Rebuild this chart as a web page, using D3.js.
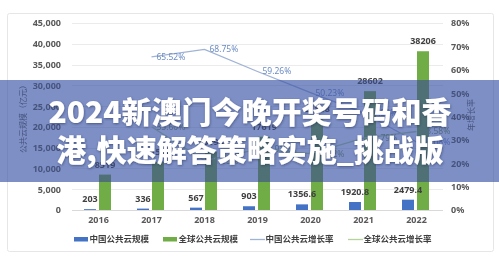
<!DOCTYPE html>
<html>
<head>
<meta charset="utf-8">
<script src="https://cdn.jsdelivr.net/npm/d3@7/dist/d3.min.js"></script>
<style>
  html, body { margin: 0; padding: 0; background: #fff; }
  svg { display: block; }
  text { font-family: "Noto Sans", "Noto Sans CJK SC", sans-serif; }
</style>
</head>
<body>
<svg id="chart" width="499" height="263"></svg>
<script>
// Public cloud market size (亿元) and yearly growth rates
const years = ["2016", "2017", "2018", "2019", "2020", "2021", "2022"];
const chinaScale = [203, 336, 567, 903, 1356.6, 1920.8, 2479.4];
const globalScale = [8519, 11552, 13993, 17619, 21868, 28602, 38206];
const chinaGrowth = [null, 65.52, 68.75, 59.26, 50.23, 41.59, 29.08];
const globalGrowth = [null, 35.60, 21.13, 25.91, 24.12, 30.79, 33.58];
const leftTicks = [0, 5000, 10000, 15000, 20000, 25000, 30000, 35000, 40000, 45000];
const rightTicks = [0, 10, 20, 30, 40, 50, 60, 70, 80];
const legendItems = ["中国公共云规模", "全球公共云规模", "中国公共云增长率", "全球公共云增长率"];
const bannerLines = ["2024新澳门今晚开奖号码和香", "港,快速解答策略实施_挑战版"];

const C_BLUE = "#4472c4", C_GREEN = "#70ad47";
const C_BLUE_LINE = "#9fb3d6", C_GREEN_LINE = "#b5d49c";

const svg = d3.select("#chart");

// outer panel
svg.append("rect").attr("x", 7.5).attr("y", 13.5).attr("width", 486).attr("height", 238)
  .attr("rx", 2).attr("fill", "#fff").attr("stroke", "#e6e6e6");

const x = d3.scaleBand().domain(years).range([72, 443]).padding(0);
const yL = d3.scaleLinear().domain([0, 45000]).range([210, 23]);
const yR = d3.scaleLinear().domain([0, 80]).range([210, 23]);

// gridlines
svg.append("g").selectAll("line").data(leftTicks).join("line")
  .attr("x1", 72).attr("x2", 443)
  .attr("y1", d => Math.round(yL(d)) + 0.5).attr("y2", d => Math.round(yL(d)) + 0.5)
  .attr("stroke", d => d === 0 ? "#d9d9d9" : "#ebebeb").attr("stroke-width", 1);

// left axis
const axL = svg.append("g").attr("transform", "translate(61,0)")
  .call(d3.axisLeft(yL).tickValues(leftTicks).tickSize(0).tickPadding(0).tickFormat(d3.format(",")));
axL.select(".domain").remove();
axL.selectAll("text").attr("fill", "#595959").attr("font-size", 9).attr("font-weight", 700);

// right axis
const axR = svg.append("g").attr("transform", "translate(451,0)")
  .call(d3.axisRight(yR).tickValues(rightTicks).tickSize(0).tickPadding(0).tickFormat(d => d + "%"));
axR.select(".domain").remove();
axR.selectAll("text").attr("fill", "#595959").attr("font-size", 9).attr("font-weight", 700);

// bottom axis
const axB = svg.append("g").attr("transform", "translate(0,210)")
  .call(d3.axisBottom(x).tickSize(0).tickPadding(7));
axB.select(".domain").remove();
axB.selectAll("text").attr("fill", "#595959").attr("font-size", 9).attr("font-weight", 700);

// axis titles
svg.append("text").attr("transform", "translate(26,117) rotate(-90)")
  .attr("text-anchor", "middle").attr("font-size", 8).attr("fill", "#595959")
  .text("公共云规模（亿元）");
svg.append("text").attr("transform", "translate(474,115) rotate(-90)")
  .attr("text-anchor", "middle").attr("font-size", 8).attr("fill", "#595959")
  .text("年增长率");

// bars
const barW = 12;
const gBars = svg.append("g");
gBars.selectAll("rect.cn").data(years).join("rect").attr("class", "cn")
  .attr("x", (d) => x(d) + x.bandwidth() / 2 - 14.5)
  .attr("y", (d, i) => yL(chinaScale[i])).attr("width", barW)
  .attr("height", (d, i) => yL(0) - yL(chinaScale[i])).attr("fill", C_BLUE);
gBars.selectAll("rect.gl").data(years).join("rect").attr("class", "gl")
  .attr("x", (d) => x(d) + x.bandwidth() / 2 + 0.5)
  .attr("y", (d, i) => yL(globalScale[i])).attr("width", barW)
  .attr("height", (d, i) => yL(0) - yL(globalScale[i])).attr("fill", C_GREEN);

// bar value labels
const lab = svg.append("g").attr("font-size", 9).attr("font-weight", 700).attr("fill", "#404040")
  .attr("text-anchor", "middle");
lab.selectAll("text.cn").data(years).join("text").attr("class", "cn")
  .attr("x", d => x(d) + x.bandwidth() / 2 - 8.5)
  .attr("y", (d, i) => yL(chinaScale[i]) - 7)
  .text((d, i) => String(chinaScale[i]));
lab.selectAll("text.gl").data(years).join("text").attr("class", "gl")
  .attr("x", d => x(d) + x.bandwidth() / 2 + 6.5)
  .attr("y", (d, i) => yL(globalScale[i]) - 7)
  .text((d, i) => String(globalScale[i]));

// growth lines
function growthLine(values, color, labelColor) {
  const pts = years.map((d, i) => ({ x: x(d) + x.bandwidth() / 2, v: values[i] })).filter(p => p.v != null);
  const line = d3.line().x(p => p.x).y(p => yR(p.v));
  svg.append("path").datum(pts).attr("d", line).attr("fill", "none")
    .attr("stroke", color).attr("stroke-width", 1.3);
  svg.append("g").selectAll("text").data(pts).join("text")
    .attr("x", p => p.x + 5).attr("y", p => yR(p.v)).attr("dy", "0.35em")
    .attr("font-size", 8.5).attr("fill", labelColor)
    .text(p => p.v.toFixed(2) + "%");
}
growthLine(chinaGrowth, C_BLUE_LINE, "#6d8cc4");
growthLine(globalGrowth, C_GREEN_LINE, "#7c9a66");

// legend
const lg = svg.append("g").attr("font-size", 8.5).attr("font-weight", 700).attr("fill", "#404040");
const legendX = [74, 163, 250, 348];
legendItems.forEach((t, i) => {
  const x0 = legendX[i];
  if (i < 2) {
    lg.append("rect").attr("x", x0).attr("y", 237).attr("width", 14).attr("height", 4.5)
      .attr("fill", i === 0 ? C_BLUE : C_GREEN);
  } else {
    lg.append("line").attr("x1", x0).attr("x2", x0 + 15).attr("y1", 239.5).attr("y2", 239.5)
      .attr("stroke", i === 2 ? C_BLUE_LINE : C_GREEN_LINE).attr("stroke-width", 1.3);
  }
  lg.append("text").attr("x", x0 + 15.5).attr("y", 239.5).attr("dy", "0.35em").text(t);
});

// title banner across the middle
const defs = svg.append("defs");
const f = defs.append("filter").attr("id", "tshadow").attr("x", "-10%").attr("y", "-30%")
  .attr("width", "120%").attr("height", "160%");
f.append("feDropShadow").attr("dx", 0.5).attr("dy", 1).attr("stdDeviation", 1)
  .attr("flood-color", "#1e2a50").attr("flood-opacity", 0.55);

svg.append("rect").attr("x", 0).attr("y", 80).attr("width", 499).attr("height", 102)
  .attr("fill", "rgba(125,143,198,0.5)");
svg.append("rect").attr("x", 0).attr("y", 80).attr("width", 499).attr("height", 102)
  .attr("fill", "rgb(168,183,223)").style("mix-blend-mode", "multiply");

svg.append("g").attr("filter", "url(#tshadow)").selectAll("text").data(bannerLines).join("text")
  .attr("x", 250).attr("y", (d, i) => 112.5 + i * 38).attr("dy", "0.35em")
  .attr("text-anchor", "middle").attr("fill", "#fff").attr("font-size", 30).attr("font-weight", 900)
  .style("font-family", "'Noto Sans CJK SC', sans-serif")
  .text(d => d);
</script>
</body>
</html>
